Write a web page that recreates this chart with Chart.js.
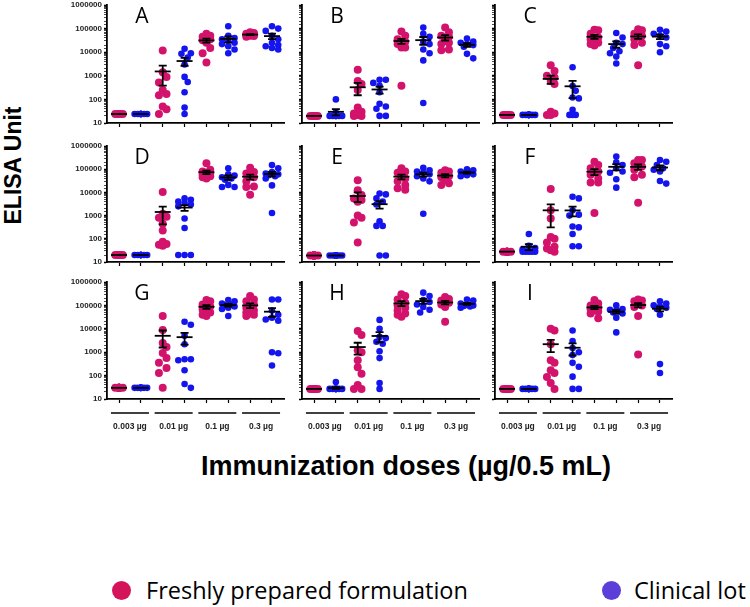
<!DOCTYPE html>
<html>
<head>
<meta charset="utf-8">
<script src="https://cdn.jsdelivr.net/npm/chart.js@4.4.0/dist/chart.umd.min.js"></script>
<style>
body { margin: 0; background: #fff; width: 750px; height: 607px; position: relative; overflow: hidden; font-family: 'Liberation Sans', Arial, sans-serif; }
canvas { position: absolute; }
#ytitle { position: absolute; left: -87px; top: 154px; width: 200px; line-height: 23px; text-align: center; font-weight: bold; font-size: 23px; transform: rotate(-90deg); }
#xtitle { position: absolute; left: 106px; top: 453px; width: 600px; text-align: center; font-weight: bold; font-size: 27px; line-height: 27px; }
.leg { position: absolute; font-family: 'Open Sans', 'Noto Sans', sans-serif; font-size: 23.5px; line-height: 24px; color: #000; white-space: nowrap; }
.dot { position: absolute; width: 19px; height: 19px; border-radius: 50%; }
</style>
</head>
<body>
<div id="ytitle">ELISA Unit</div>
<div id="xtitle">Immunization doses (µg/0.5 mL)</div>
<span class="dot" style="left:112px;top:581px;background:#d4145a"></span>
<div class="leg" style="left:146px;top:578px">Freshly prepared formulation</div>
<span class="dot" style="left:602px;top:581px;background:#5b3fd8"></span>
<div class="leg" style="left:634px;top:578px">Clinical lot</div>
<script>
const panelNames = ['A', 'B', 'C', 'D', 'E', 'F', 'G', 'H', 'I'];
const doses = ['0.003 µg', '0.01 µg', '0.1 µg', '0.3 µg'];
const yTicks = [10, 100, 1000, 10000, 100000, 1000000];
const freshColor = '#d3136b';
const clinicalColor = '#1414ee';

// each list: one inner list per dose (0.003, 0.01, 0.1, 0.3 µg), ELISA units per mouse
const A_fresh = [
  [24, 24, 24, 24, 24, 24, 24, 24, 24, 24],
  [11800, 1400, 900, 520, 250, 170, 150, 50, 38, 24],
  [60000, 50000, 45000, 40000, 35000, 32000, 25000, 15000, 9000, 3700],
  [70000, 65000, 60000, 57000, 55000, 52000, 50000, 48000, 45000]
];
const A_clinical = [
  [24, 24, 24, 24, 24, 24, 24, 24, 24, 24],
  [14000, 9000, 8500, 6000, 3000, 900, 550, 200, 45, 24],
  [125000, 50000, 40000, 35000, 30000, 25000, 22000, 18000, 13000, 9000],
  [125000, 100000, 80000, 50000, 35000, 25000, 20000, 18000, 15000, 13000]
];
const B_fresh = [
  [20, 20, 20, 20, 20, 20, 20, 20, 20, 20],
  [1800, 600, 450, 250, 45, 30, 25, 22, 20, 20],
  [75000, 50000, 35000, 28000, 25000, 22000, 16000, 16000, 380],
  [110000, 70000, 50000, 45000, 30000, 25000, 22000, 13000, 12000]
];
const B_clinical = [
  [100, 28, 20, 20, 20, 20, 20, 20, 20],
  [680, 680, 500, 380, 200, 65, 50, 40, 20, 20],
  [110000, 60000, 45000, 28000, 22000, 13000, 9000, 4500, 70],
  [38000, 28000, 25000, 22000, 20000, 17000, 8500, 5500]
];
const C_fresh = [
  [22, 22, 22, 22, 22, 22, 22, 22, 22, 22],
  [2800, 1600, 1000, 850, 600, 450, 30, 25, 22, 22],
  [90000, 85000, 60000, 42000, 35000, 30000, 25000, 22000, 19000],
  [95000, 85000, 60000, 50000, 45000, 35000, 25000, 20000, 2800]
];
const C_clinical = [
  [22, 22, 22, 22, 22, 22, 22, 22, 22, 22],
  [2300, 370, 230, 120, 110, 36, 22, 22, 22],
  [65000, 42000, 25000, 22000, 15000, 11000, 9000, 6500, 3300],
  [90000, 75000, 60000, 50000, 42000, 22000, 18000, 10000]
];
const D_fresh = [
  [20, 20, 20, 20, 20, 20, 20, 20, 20, 20],
  [10500, 1200, 900, 800, 450, 230, 75, 60, 55, 50],
  [180000, 95000, 80000, 70000, 65000, 60000, 55000, 50000, 45000, 40000],
  [115000, 75000, 65000, 52000, 45000, 30000, 18000, 17000, 8000]
];
const D_clinical = [
  [20, 20, 20, 20, 20, 20, 20, 20, 20, 20],
  [5500, 4800, 4000, 3500, 3000, 2500, 750, 290, 20, 20, 20],
  [110000, 60000, 53000, 45000, 40000, 35000, 21000, 17000, 17000],
  [150000, 110000, 75000, 65000, 60000, 55000, 50000, 40000, 20000, 1300]
];
const E_fresh = [
  [19, 19, 19, 19, 19, 19, 19, 19, 19, 19],
  [33000, 12500, 7700, 5500, 4700, 4000, 1000, 800, 500, 70],
  [110000, 80000, 70000, 50000, 40000, 30000, 21000, 15000, 13000],
  [90000, 80000, 70000, 60000, 50000, 45000, 35000, 25000, 21000]
];
const E_clinical = [
  [19, 19, 19, 19, 19, 19, 19, 19, 19, 19],
  [9000, 8200, 5500, 4000, 3000, 570, 360, 360, 19, 19],
  [115000, 90000, 80000, 70000, 60000, 50000, 40000, 30000, 1200],
  [100000, 90000, 80000, 75000, 62000, 60000, 55000, 50000]
];
const F_fresh = [
  [28, 28, 28, 28, 28, 28, 28, 28, 28, 28],
  [14000, 1700, 750, 120, 100, 70, 45, 38, 32, 28],
  [210000, 150000, 110000, 80000, 57000, 40000, 27000, 27000, 1300],
  [250000, 250000, 180000, 130000, 95000, 57000, 45000, 3600]
];
const F_clinical = [
  [160, 50, 40, 35, 30, 28, 28, 28, 28, 28],
  [6500, 5500, 1700, 1100, 1000, 340, 310, 160, 48, 48],
  [350000, 200000, 150000, 110000, 80000, 70000, 37000, 16000],
  [250000, 210000, 150000, 110000, 95000, 80000, 31000, 24000]
];
const G_fresh = [
  [30, 30, 30, 30, 30, 30, 30, 30, 30, 30],
  [35000, 8900, 2450, 1660, 930, 570, 350, 210, 130, 30],
  [170000, 150000, 110000, 90000, 75000, 65000, 50000, 40000, 35000],
  [250000, 180000, 150000, 110000, 80000, 60000, 50000, 45000, 40000, 35000]
];
const G_clinical = [
  [30, 30, 30, 30, 30, 30, 30, 30, 30, 30],
  [20000, 15000, 5000, 2200, 500, 500, 450, 170, 44, 30],
  [170000, 150000, 120000, 110000, 100000, 90000, 80000, 70000, 35000],
  [180000, 180000, 60000, 40000, 30000, 25000, 22000, 1000, 900, 270]
];
const H_fresh = [
  [27, 27, 27, 27, 27, 27, 27, 27, 27, 27],
  [8000, 5500, 1200, 1000, 450, 230, 120, 40, 27, 27],
  [300000, 250000, 180000, 130000, 100000, 80000, 60000, 45000, 40000, 33000],
  [230000, 190000, 160000, 140000, 130000, 110000, 85000, 20000]
];
const H_clinical = [
  [53, 27, 27, 27, 27, 27, 27, 27, 27, 27],
  [24000, 10000, 4500, 4000, 2800, 2300, 1100, 560, 48, 27],
  [350000, 250000, 170000, 140000, 110000, 85000, 65000, 50000],
  [180000, 160000, 120000, 110000, 100000, 95000, 90000, 80000]
];
const I_fresh = [
  [27, 27, 27, 27, 27, 27, 27, 27, 27, 27],
  [10000, 8500, 2200, 450, 350, 170, 130, 87, 48, 27],
  [170000, 120000, 100000, 90000, 80000, 70000, 60000, 55000, 45000, 28000],
  [180000, 160000, 150000, 120000, 100000, 85000, 35000, 800]
];
const I_clinical = [
  [27, 27, 27, 27, 27, 27, 27, 27, 27, 27],
  [8500, 3000, 1500, 1000, 750, 350, 240, 90, 27, 27],
  [100000, 70000, 65000, 60000, 55000, 50000, 45000, 30000, 7000],
  [150000, 120000, 100000, 90000, 80000, 70000, 40000, 310, 130]
];

const freshSets = [A_fresh, B_fresh, C_fresh, D_fresh, E_fresh, F_fresh, G_fresh, H_fresh, I_fresh];
const clinicalSets = [A_clinical, B_clinical, C_clinical, D_clinical, E_clinical, F_clinical, G_clinical, H_clinical, I_clinical];

// panel grid (plot area in page pixels)
const colLeft = [107, 302, 495];
const rowTop = [5, 146, 282];
const rowHeight = [118, 116, 117];
const plotW = 177;

const isPow10 = v => Math.abs(Math.log10(v) - Math.round(Math.log10(v))) < 1e-9;

// simple beeswarm so dots of one group don't sit on top of each other
function swarm(vals, r, center) {
  const sx = 21.86, sy = 23.4;
  const order = vals.map((v, i) => i).sort((a, b) => vals[b] - vals[a]);
  const placed = [];
  const out = [];
  const step = r * 0.95, maxOff = 7.5;
  order.forEach(i => {
    const py = Math.log10(vals[i]) * sy;
    let best = 0, bestD = -1;
    for (let k = 0; k < 9; k++) {
      const off = (k % 2 ? 1 : -1) * Math.ceil(k / 2) * step;
      if (Math.abs(off) > maxOff) continue;
      let d = Infinity;
      placed.forEach(p => { d = Math.min(d, Math.hypot(p[0] - off, p[1] - py)); });
      if (d >= r * 1.7) { best = off; bestD = d; break; }
      if (d > bestD) { bestD = d; best = off; }
    }
    placed.push([best, py]);
    out.push({ x: center + best / sx, y: vals[i] });
  });
  return out;
}

function makeDataset(label, groups, offset, color, r) {
  const pts = [];
  groups.forEach((vals, i) => pts.push(...swarm(vals, r, 2 * i + offset)));
  return {
    label: label, data: pts, groups: groups,
    positions: groups.map((g, i) => 2 * i + offset),
    backgroundColor: color, pointRadius: r, pointHoverRadius: r, borderWidth: 0
  };
}

// mean +/- SEM drawn over the dots
const meanSem = {
  id: 'meanSem',
  afterDatasetsDraw(chart) {
    const { ctx } = chart;
    const x = chart.scales.x, y = chart.scales.y;
    ctx.save();
    ctx.strokeStyle = '#000';
    ctx.lineWidth = 1.8;
    chart.data.datasets.forEach(ds => {
      ds.groups.forEach((vals, i) => {
        const n = vals.length;
        const m = vals.reduce((a, b) => a + b, 0) / n;
        const sd = Math.sqrt(vals.reduce((a, b) => a + (b - m) * (b - m), 0) / (n - 1));
        const se = sd / Math.sqrt(n);
        const cx = x.getPixelForValue(ds.positions[i]);
        const ym = y.getPixelForValue(m);
        ctx.beginPath();
        ctx.moveTo(cx - 8, ym); ctx.lineTo(cx + 8, ym);
        ctx.stroke();
        if (se > 0) {
          const yt = y.getPixelForValue(m + se);
          const yb = y.getPixelForValue(Math.max(m - se, 10));
          ctx.beginPath();
          ctx.moveTo(cx, yt); ctx.lineTo(cx, yb);
          ctx.moveTo(cx - 4, yt); ctx.lineTo(cx + 4, yt);
          ctx.moveTo(cx - 4, yb); ctx.lineTo(cx + 4, yb);
          ctx.stroke();
        }
      });
    });
    ctx.restore();
  }
};

// panel letter and dose labels under the bottom row
const panelText = {
  id: 'panelText',
  afterDraw(chart, args, opts) {
    const { ctx, chartArea } = chart;
    const x = chart.scales.x;
    ctx.save();
    ctx.fillStyle = '#000';
    ctx.font = "21px 'Open Sans', 'Noto Sans', sans-serif";
    ctx.textAlign = 'center';
    ctx.textBaseline = 'middle';
    ctx.fillText(opts.letter, chartArea.left + 35, chartArea.top + 12);
    if (opts.doses) {
      ctx.font = "bold 8.5px 'Liberation Sans', Arial, sans-serif";
      ctx.fillStyle = '#222';
      ctx.strokeStyle = '#000';
      ctx.lineWidth = 1.5;
      doses.forEach((d, p) => {
        const c = (x.getPixelForValue(2 * p + 1) + x.getPixelForValue(2 * p + 2)) / 2;
        ctx.beginPath();
        ctx.moveTo(c - 19, chartArea.bottom + 14);
        ctx.lineTo(c + 19, chartArea.bottom + 14);
        ctx.stroke();
        ctx.fillText(d, c, chartArea.bottom + 28);
      });
    }
    ctx.restore();
  }
};

panelNames.forEach((name, idx) => {
  const row = Math.floor(idx / 3), col = idx % 3;
  const L = colLeft[col], T = rowTop[row], H = rowHeight[row];
  const extra = row === 2 ? 34 : 0;
  const cv = document.createElement('canvas');
  const w = 50 + plotW + 8, h = 8 + H + 8 + extra;
  cv.width = w; cv.height = h;
  cv.style.left = (L - 50) + 'px';
  cv.style.top = (T - 8) + 'px';
  cv.style.width = w + 'px'; cv.style.height = h + 'px';
  document.body.appendChild(cv);

  new Chart(cv, {
    type: 'scatter',
    data: {
      datasets: [
        makeDataset('Freshly prepared formulation', freshSets[idx], 1, freshColor, 4),
        makeDataset('Clinical lot', clinicalSets[idx], 2, clinicalColor, 3.3)
      ]
    },
    options: {
      responsive: false,
      animation: false,
      devicePixelRatio: 1,
      layout: { padding: { top: 8, right: 8, bottom: 2 + extra, left: 0 } },
      plugins: {
        legend: { display: false },
        tooltip: { enabled: false },
        panelText: { letter: name, doses: row === 2 }
      },
      scales: {
        x: {
          type: 'linear', min: 0.45, max: 8.55,
          afterBuildTicks: s => { s.ticks = [1, 2, 3, 4, 5, 6, 7, 8].map(v => ({ value: v })); },
          afterFit: s => { s.height = 6; },
          grid: { drawOnChartArea: false, tickLength: 4, tickColor: '#000', tickWidth: 1.2 },
          border: { color: '#000', width: 1.8 },
          ticks: { callback: () => '' }
        },
        y: {
          type: 'logarithmic', min: 10, max: 1000000,
          afterFit: s => { s.width = 50; },
          grid: {
            drawOnChartArea: false, tickLength: 3, tickColor: '#000',
            tickWidth: c => (c.tick && isPow10(c.tick.value)) ? 1.5 : 0.7
          },
          border: { color: '#000', width: 1.8 },
          ticks: {
            autoSkip: false, padding: 2, color: '#222',
            font: { size: 8, weight: 'bold', family: "'Liberation Sans', Arial, sans-serif" },
            callback: v => (col === 0 && yTicks.some(t => Math.abs(t - v) < 1e-6 * t)) ? String(yTicks.find(t => Math.abs(t - v) < 1e-6 * t)) : ''
          }
        }
      }
    },
    plugins: [meanSem, panelText]
  });
});
</script>
</body>
</html>
